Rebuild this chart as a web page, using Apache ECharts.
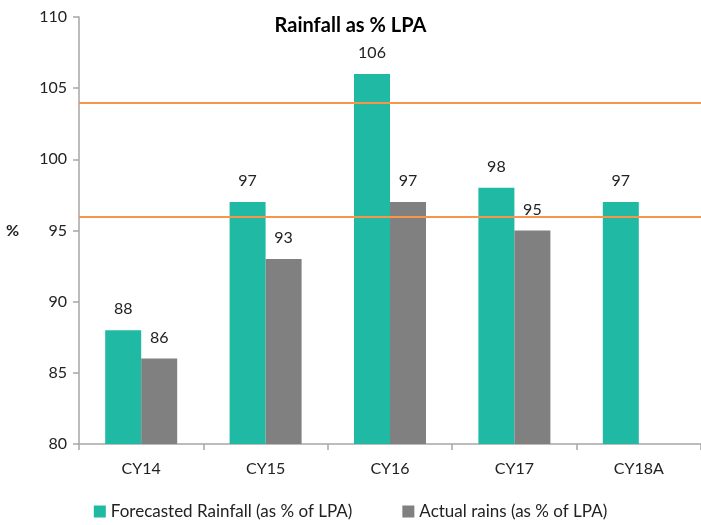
<!DOCTYPE html>
<html><head><meta charset="utf-8">
<script src="https://cdn.jsdelivr.net/npm/echarts@6/dist/echarts.min.js"></script>
<style>html,body{margin:0;padding:0;background:#fff}#c{width:701px;height:525px}</style>
</head><body><div id="c"></div>
<script>
const categories = ['CY14','CY15','CY16','CY17','CY18A'];
const forecast = [88, 97, 106, 98, 97];
const actual = [86, 93, 97, 95, null];
const bandLines = [96, 104];
const seriesNames = ['Forecasted Rainfall (as % of LPA)', 'Actual rains (as % of LPA)'];
const FONT = 'Lato, "Open Sans", sans-serif';
const chart = echarts.init(document.getElementById('c'), null, {renderer:'canvas'});
chart.setOption({
  animation: false,
  title: {text: 'Rainfall as % LPA', left: 'center', top: 11, textStyle:{fontFamily:FONT, fontSize:20, fontWeight:'bold', color:'#000'}},
  legend: {bottom: 0, left: 'center', itemWidth: 12, itemHeight: 12, itemGap: 50, icon: 'rect',
    textStyle:{fontFamily:FONT, fontSize:17, color:'#222'}, data: seriesNames},
  grid: {left: 79, top: 17, width: 625, height: 427, containLabel:false},
  xAxis: {type:'category', data: categories,
    axisLine:{lineStyle:{color:'#a6a6a6', width:1.5}},
    axisTick:{show:true, length:6, lineStyle:{color:'#a6a6a6', width:1.5}},
    axisLabel:{fontFamily:FONT, fontSize:16, color:'#222', margin:17}},
  yAxis: {type:'value', min:80, max:110, interval:5,
    name:'%', nameLocation:'middle', nameRotate:0, nameGap:60,
    nameTextStyle:{fontFamily:FONT, fontSize:16, fontWeight:'bold', color:'#222'},
    axisLine:{show:true, lineStyle:{color:'#a6a6a6', width:1.5}},
    axisTick:{show:true, length:6, lineStyle:{color:'#a6a6a6', width:1.5}},
    splitLine:{show:false},
    axisLabel:{fontFamily:FONT, fontSize:16, color:'#222', margin:12}},
  series: [
    {name: seriesNames[0], type:'bar', data: forecast, barWidth: 36, barGap: '0%',
     itemStyle:{color:'#20b9a3'},
     label:{show:true, position:'top', distance:13, fontFamily:FONT, fontSize:16, color:'#222'},
     markLine:{silent:true, symbol:'none', z:10, label:{show:false},
       lineStyle:{color:'#f7964a', width:2, type:'solid'},
       data: bandLines.map(v => ({yAxis: v}))}},
    {name: seriesNames[1], type:'bar', data: actual, barWidth: 36,
     itemStyle:{color:'#808080'},
     label:{show:true, position:'top', distance:13, fontFamily:FONT, fontSize:16, color:'#222'}}
  ]
});
</script></body></html>
